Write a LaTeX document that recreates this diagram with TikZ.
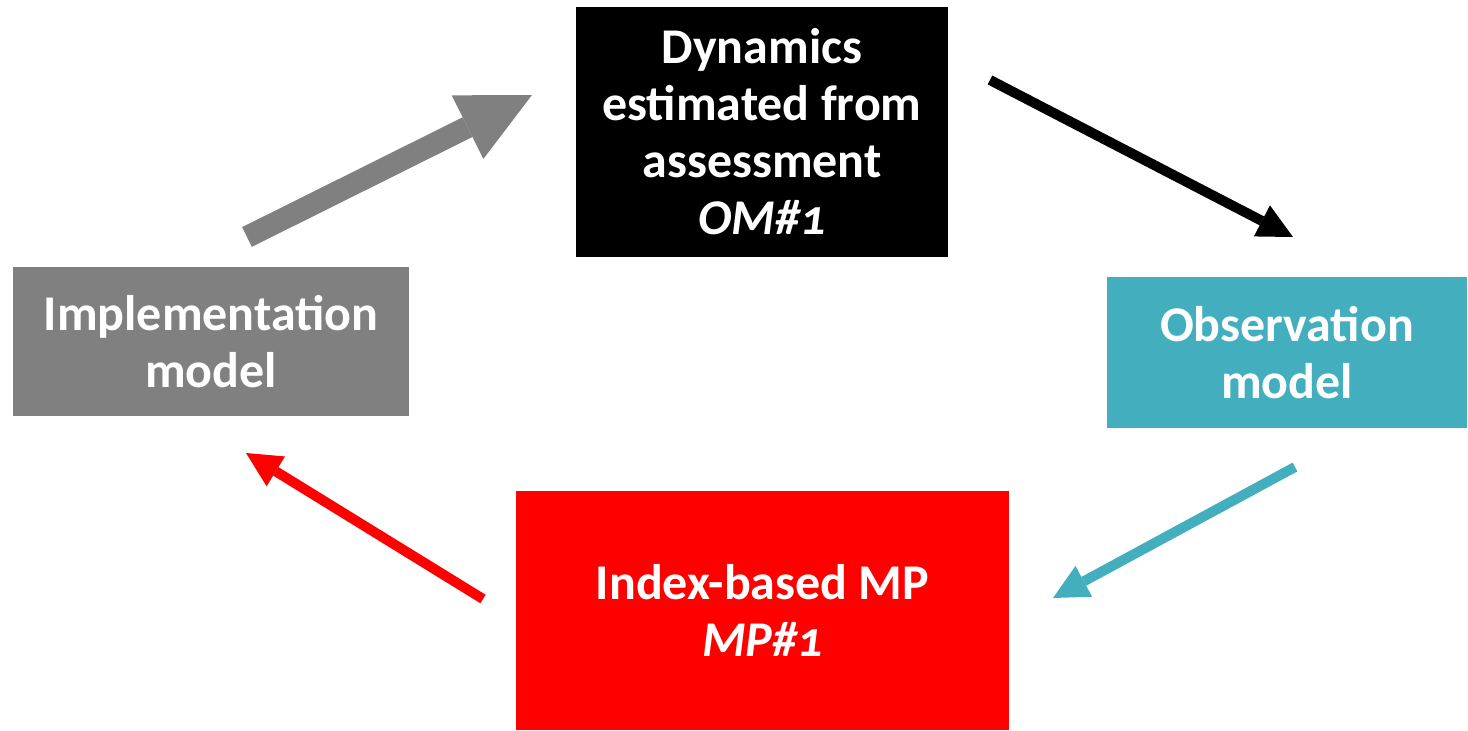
\documentclass[tikz,border=0pt]{standalone}
\usepackage{fontspec}
\setmainfont{Carlito}[Numbers=OldStyle]
\usepackage{tikz}
\usetikzlibrary{arrows.meta}
\definecolor{omgray}{HTML}{808080}
\definecolor{obsteal}{HTML}{43AFBE}
\definecolor{mpred}{HTML}{FF0000}
\tikzstyle{box} = [rectangle, inner sep=0pt, align=center, text=white, font=\fontsize{50}{57}\selectfont\bfseries]
\tikzstyle{bigtip} = [-{Triangle[length=72pt,width=71pt,line width=0pt]}]
\tikzstyle{tip} = [-{Triangle[length=35pt,width=35pt,line width=0pt]}]

\begin{document}
\begin{tikzpicture}[yscale=-1]
			\useasboundingbox (0pt,0pt) rectangle (1468pt,731pt);
			\node[box, fill=black, minimum width=372pt, minimum height=250pt] (om) at (762pt,132pt) {Dynamics\\estimated from\\assessment\\\textit{OM\#1}};
			\node[box, fill=omgray, minimum width=396pt, minimum height=149pt] (imp) at (211pt,341.5pt) {Implementation\\model};
			\node[box, fill=obsteal, minimum width=360pt, minimum height=151pt] (obs) at (1287pt,352.5pt) {Observation\\model};
			\node[box, fill=mpred, minimum width=493pt, minimum height=239pt] (mp) at (762.5pt,610.5pt) {Index-based MP\\\textit{MP\#1}};
			\coordinate (impout) at (247pt,237pt);
			\coordinate (omin) at (532pt,95pt);
			\coordinate (omout) at (990pt,80pt);
			\coordinate (obsin) at (1293pt,237pt);
			\coordinate (obsout) at (1295pt,467pt);
			\coordinate (mpin) at (1053pt,598pt);
			\coordinate (mpout) at (483pt,599pt);
			\coordinate (impin) at (246pt,453pt);
			\draw[bigtip, omgray, line width=22pt] (impout) -- (omin);
			\draw[tip, black, line width=10pt] (omout) -- (obsin);
			\draw[tip, obsteal, line width=10pt] (obsout) -- (mpin);
			\draw[tip, mpred, line width=10pt] (mpout) -- (impin);
		\end{tikzpicture}
\end{document}
